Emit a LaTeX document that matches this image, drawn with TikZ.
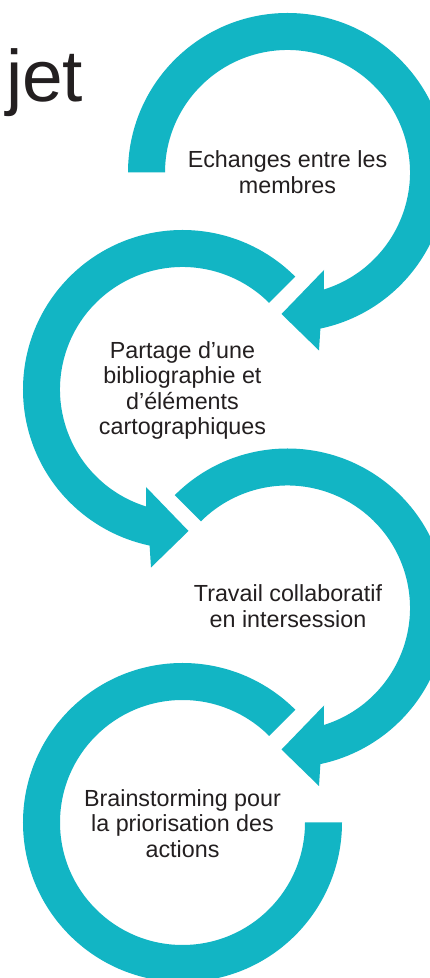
\documentclass[tikz,border=0pt]{standalone}
\usepackage{fontspec}
\setmainfont{Liberation Sans}
\definecolor{ringc}{RGB}{18,181,196}
\definecolor{txt}{RGB}{35,31,32}
\newcommand\ringarrow[1]{%
  \fill[ringc] (#1:159.5) arc[start angle=#1, end angle=-78.1, radius=159.5pt]
    -- (31.5,-178) -- (-6,-141.5) -- (36.5,-97.5)
    -- (-72.74:122.5) arc[start angle=-72.74, end angle=#1, radius=122.5pt] -- cycle;}
\begin{document}
\begin{tikzpicture}[x=1pt,y=1pt,
  lbl/.style={align=center, inner sep=0pt, anchor=base, text=txt,
    font=\fontsize{23.3}{25.6}\selectfont}]
\useasboundingbox (0,0) rectangle (430,978);
\clip (0,0) rectangle (430,978);
\fill[white] (0,0) rectangle (430,978);
\coordinate (c1) at (287.5,805.5);
\coordinate (c2) at (182.5,588.5);
\coordinate (c3) at (287.5,370);
\coordinate (c4) at (182.5,155.5);
% rings
\begin{scope}[shift={(c1)}] \ringarrow{180} \end{scope}
\begin{scope}[shift={(c2)}, xscale=-1] \ringarrow{135} \end{scope}
\begin{scope}[shift={(c3)}] \ringarrow{135} \end{scope}
\begin{scope}[shift={(c4)}]
  \fill[ringc] (45:159.5) arc[start angle=45, end angle=360, radius=159.5pt]
    -- (0:122.5) arc[start angle=360, end angle=45, radius=122.5pt] -- cycle;
\end{scope}
% title
\node[anchor=base east, inner sep=0pt, text=txt, font=\fontsize{73}{80}\selectfont] (title) at (83.5,876.3) {jet};
% labels (anchor = baseline of last line)
\node[lbl] (t1) at (287.5,784.7) {Echanges entre les\\membres};
\node[lbl] (t2) at (182.5,543) {Partage d’une\\bibliographie et\\d’éléments\\cartographiques};
\node[lbl] (t3) at (288,350.7) {Travail collaboratif\\en intersession};
\node[lbl] (t4) at (182.5,120.7) {Brainstorming pour\\la priorisation des\\actions};
\end{tikzpicture}
\end{document}
